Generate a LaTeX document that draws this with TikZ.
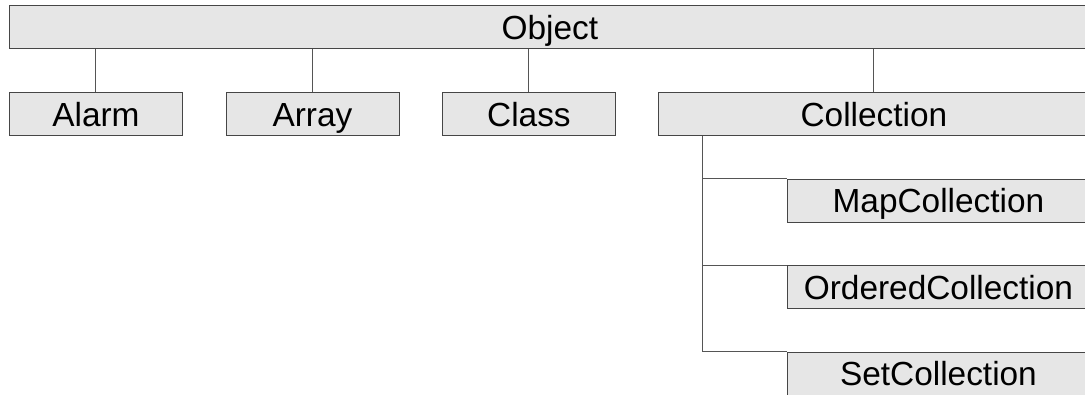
\documentclass[tikz,border=0pt]{standalone}
\usepackage{fontspec}
\setmainfont{Liberation Sans}

\begin{document}
\begin{tikzpicture}[x=1pt,y=1pt,yscale=-1,xscale=1,
  classbox/.style={draw={rgb, 255:red, 70; green, 70; blue, 70 }, fill={rgb, 255:red, 230; green, 230; blue, 230 }, line width=0.9pt, anchor=north west, inner sep=0pt, minimum height=43.3pt, text height=24pt, text depth=0pt, font=\fontsize{33.4}{40}\selectfont},
  link/.style={draw={rgb, 255:red, 85; green, 85; blue, 85 }, line width=1pt}]
\useasboundingbox (0,0) rectangle (1085,394);
\clip (0,0) rectangle (1085,394);

% Class boxes
\node [classbox, minimum width=1081pt] (object) at (9,5) {Object};
\node [classbox, minimum width=173pt] (alarm) at (9,92) {Alarm};
\node [classbox, minimum width=173pt] (array) at (225.5,92) {Array};
\node [classbox, minimum width=173pt] (class) at (442,92) {Class};
\node [classbox, minimum width=431pt] (collection) at (658,92) {Collection};
\node [classbox, minimum width=302pt] (mapcoll) at (787,178.5) {MapCollection};
\node [classbox, minimum width=302pt] (ordcoll) at (787,265) {OrderedCollection};
\node [classbox, minimum width=302pt] (setcoll) at (787,351.5) {SetCollection};

% Links from Object
\draw [link] (object.south -| alarm.north) -- (alarm.north);
\draw [link] (object.south -| array.north) -- (array.north);
\draw [link] (object.south -| class.north) -- (class.north);
\draw [link] (object.south -| collection.north) -- (collection.north);

% Links from Collection
\coordinate (trunk) at ([xshift=44pt]collection.south west);
\draw [link] (trunk) |- (setcoll.north west);
\draw [link] (trunk |- mapcoll.north) -- (mapcoll.north west);
\draw [link] (trunk |- ordcoll.north) -- (ordcoll.north west);

\end{tikzpicture}
\end{document}
